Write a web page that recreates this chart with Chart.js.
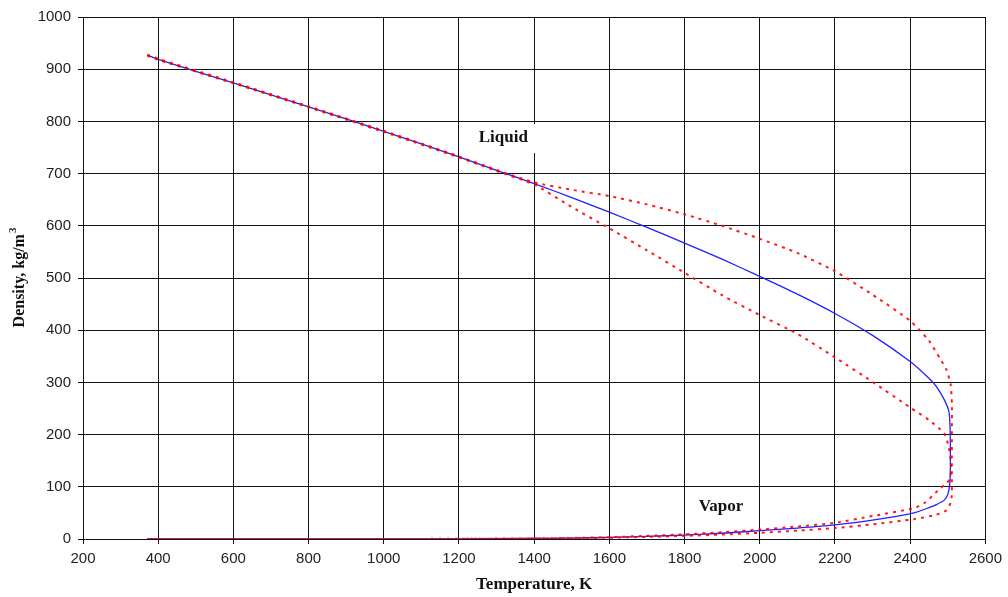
<!DOCTYPE html>
<html>
<head>
<meta charset="utf-8">
<script src="https://cdn.jsdelivr.net/npm/chart.js@4/dist/chart.umd.min.js"></script>
<style>
    body { margin: 0; background: #fff; }
    #wrap { width: 1008px; height: 597px; }
</style>
</head>
<body>
<div id="wrap"><canvas id="densityChart" width="1008" height="597"></canvas></div>
<script>
/* ==========================
   DATA
========================== */
// recommended curve, liquid branch then vapor branch (T in K, density kg/m3)
const bestT = [371, 400, 500, 600, 700, 800, 900, 1000, 1100, 1200, 1300, 1400, 1500, 1600, 1700, 1800, 1900, 2000,
    2100, 2200, 2300, 2400, 2450, 2470, 2490, 2503, 2506, 2507, 2507, 2506, 2500, 2490, 2470, 2450, 2410,
    2300, 2200, 2100, 2000, 1900, 1800, 1700, 1600, 1500, 1400, 1200, 1000, 800, 371];
const bestRho = [927, 919, 896, 874, 851, 828, 805, 781, 757, 732, 706, 681, 654, 626, 597, 567, 536, 503,
    469, 432, 390, 340, 308, 292, 268, 245, 220, 180, 140, 110, 85, 74, 66, 60, 50,
    36, 27, 21, 16, 11, 7.5, 5, 3, 1.8, 1, 0.3, 0.1, 0, 0];

// outer uncertainty bound: upper liquid, lower vapor
const outerT = [371, 400, 600, 800, 1000, 1200, 1300, 1400, 1500, 1600, 1700, 1800, 1900, 2000, 2100, 2200,
    2300, 2400, 2450, 2480, 2497, 2508, 2511, 2511, 2511, 2511, 2509, 2497, 2467, 2410,
    2300, 2200, 2100, 2000, 1900, 1800, 1700, 1600, 1500, 1400, 1200, 1000, 371];
const outerRho = [928, 920, 875, 829, 782, 733, 707, 683, 669, 657, 641, 622, 600, 575, 548, 513,
    468, 418, 380, 345, 324, 295, 260, 200, 140, 90, 72, 55, 46, 38,
    28, 21, 16, 12, 8.5, 6, 4, 2.5, 1.5, 0.8, 0.2, 0, 0];

// inner uncertainty bound: lower liquid, upper vapor
const innerT = [371, 400, 600, 800, 1000, 1200, 1300, 1400, 1500, 1600, 1700, 1800, 1900, 2000, 2100, 2200,
    2300, 2400, 2450, 2490, 2503, 2509, 2506, 2497, 2480, 2467, 2440, 2410,
    2300, 2200, 2100, 2000, 1900, 1800, 1700, 1600, 1500, 1400, 1200, 1000, 371];
const innerRho = [926, 918, 873, 827, 780, 731, 705, 679, 636, 595, 553, 510, 467, 429, 393, 348,
    301, 252, 228, 203, 176, 140, 115, 107, 97, 88, 70, 59,
    44, 31, 24, 18, 13, 9, 6, 3.5, 2, 1.2, 0.4, 0.1, 0];

const xTicks = [200, 400, 600, 800, 1000, 1200, 1400, 1600, 1800, 2000, 2200, 2400, 2600];
const yTicks = [0, 100, 200, 300, 400, 500, 600, 700, 800, 900, 1000];

// annotation anchors in data units
const labels = [
    { text: "Liquid", T: 1318, rho: 768, boxed: true },
    { text: "Vapor", T: 1897, rho: 63, boxed: false }
];

function toPoints(xs, ys) {
    return xs.map((x, i) => ({ x: x, y: ys[i] }));
}

/* ==========================
   TEXT PLUGIN
========================== */
const textPlugin = {
    id: "texts",
    afterDraw(chart) {
        const ctx = chart.ctx;
        const xs = chart.scales.x;
        const ys = chart.scales.y;
        const area = chart.chartArea;
        ctx.save();
        ctx.fillStyle = "#111";
        ctx.textAlign = "center";
        ctx.textBaseline = "middle";
        ctx.font = 'bold 17px "Liberation Serif"';

        labels.forEach(l => {
            const px = xs.getPixelForValue(l.T);
            const py = ys.getPixelForValue(l.rho);
            if (l.boxed) {
                const w = ctx.measureText(l.text).width + 24;
                ctx.fillStyle = "#fff";
                ctx.fillRect(px - w / 2, py - 14, w, 29);
                ctx.fillStyle = "#111";
            }
            ctx.fillText(l.text, px, py);
        });

        // axis titles
        ctx.fillText("Temperature, K", (area.left + area.right) / 2, 585);

        ctx.translate(20, (area.top + area.bottom) / 2);
        ctx.rotate(-Math.PI / 2);
        ctx.font = 'bold 16px "Liberation Serif"';
        const main = "Density, kg/m";
        const mw = ctx.measureText(main).width;
        ctx.font = 'bold 11px "Liberation Serif"';
        const sw = ctx.measureText("3").width;
        const start = -(mw + sw) / 2;
        ctx.textAlign = "left";
        ctx.font = 'bold 16px "Liberation Serif"';
        ctx.fillText(main, start, 0);
        ctx.font = 'bold 11px "Liberation Serif"';
        ctx.fillText("3", start + mw + 1, -7);
        ctx.restore();
    }
};

/* ==========================
   CHART
========================== */
const redLine = {
    borderColor: "rgba(255,0,0,0.9)",
    borderWidth: 2,
    borderDash: [3, 5],
    pointRadius: 0,
    showLine: true,
    fill: false,
    tension: 0.2
};

new Chart(document.getElementById("densityChart"), {
    type: "scatter",
    data: {
        datasets: [
            Object.assign({ label: "outer", data: toPoints(outerT, outerRho) }, redLine),
            Object.assign({ label: "inner", data: toPoints(innerT, innerRho) }, redLine),
            {
                label: "recommended",
                data: toPoints(bestT, bestRho),
                borderColor: "#2020ff",
                borderWidth: 1.3,
                pointRadius: 0,
                showLine: true,
                fill: false,
                tension: 0.2
            }
        ]
    },
    options: {
        responsive: false,
        animation: false,
        events: [],
        layout: { padding: { left: 0, right: 18, top: 17, bottom: 0 } },
        plugins: {
            legend: { display: false },
            tooltip: { enabled: false }
        },
        scales: {
            x: {
                type: "linear",
                min: 200,
                max: 2600,
                afterBuildTicks: axis => { axis.ticks = xTicks.map(v => ({ value: v })); },
                afterFit: axis => { axis.height = 58; },
                grid: { color: "#111", lineWidth: 1, tickLength: 5, tickColor: "#111" },
                border: { color: "#111", width: 1 },
                ticks: {
                    color: "#222",
                    padding: 6,
                    maxRotation: 0,
                    callback: v => String(v),
                    font: { family: "Liberation Sans", size: 15 }
                }
            },
            y: {
                type: "linear",
                min: 0,
                max: 1000,
                afterBuildTicks: axis => { axis.ticks = yTicks.map(v => ({ value: v })); },
                afterFit: axis => { axis.width = 83; },
                grid: { color: "#111", lineWidth: 1, tickLength: 5, tickColor: "#111" },
                border: { color: "#111", width: 1 },
                ticks: {
                    color: "#222",
                    padding: 7,
                    callback: v => String(v),
                    font: { family: "Liberation Sans", size: 15 }
                }
            }
        }
    },
    plugins: [textPlugin]
});
</script>
</body>
</html>
